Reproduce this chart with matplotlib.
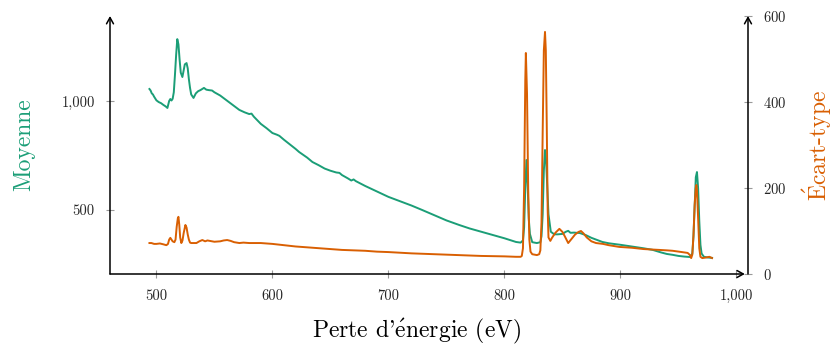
import matplotlib.pyplot as plt
from matplotlib.ticker import FuncFormatter

plt.rcParams['font.family'] = ['cmr10', 'DejaVu Serif']
plt.rcParams['mathtext.fontset'] = 'cm'
plt.rcParams['axes.formatter.use_mathtext'] = True

GREEN = '#1b9e77'
ORANGE = '#d95f02'

# mean spectrum (left axis)
mean_ev = [494, 495, 496, 497, 498, 500, 502, 504, 506, 508, 509.5, 511, 512, 513, 514, 515,
           516, 517, 518, 519, 520, 521, 522.4, 523.5, 524.5, 526, 527, 528, 529, 530, 532,
           534, 536, 538, 541, 543, 545, 548, 550, 555, 560, 565, 571.5, 576, 580, 582, 584,
           590, 595, 600, 604, 606, 610, 620, 623, 630, 634.5, 640, 645, 650, 655, 657.8, 660,
           665, 668, 670, 672, 680, 690, 700, 710, 720, 729, 740, 750, 761, 770, 780, 790, 800,
           810, 814, 816, 817, 818, 819, 820, 821, 822, 824, 828, 831, 832, 833, 834, 835, 836,
           837, 838, 840, 843, 846, 850, 853, 855, 857, 860, 865, 870, 875, 884.5, 890, 900,
           910, 920, 927.6, 935, 940, 945, 950, 955, 958, 960, 962, 963, 964, 965, 966, 967,
           968, 969, 970, 972, 975, 979]
mean_val = [1055, 1048, 1035, 1030, 1020, 1003, 995, 990, 982, 975, 968, 1000, 1009, 1002, 1010, 1040,
            1120, 1210, 1284, 1260, 1190, 1130, 1110, 1140, 1168, 1174, 1150, 1100, 1060, 1030, 1014,
            1035, 1045, 1050, 1060, 1052, 1050, 1048, 1040, 1025, 1005, 985, 959, 948, 940, 942, 928,
            895, 875, 853, 845, 840, 822, 780, 766, 740, 720, 705, 690, 680, 672, 670, 660,
            645, 635, 640, 632, 610, 585, 560, 540, 520, 500, 475, 452, 431, 415, 400, 385, 370,
            353, 350, 360, 420, 600, 729, 620, 460, 390, 352, 348, 352, 380, 480, 680, 775, 720,
            600, 480, 400, 388, 388, 390, 400, 404, 395, 396, 394, 385, 372, 353, 347, 340,
            332, 324, 317, 305, 298, 294, 289, 286, 285, 284, 300, 380, 520, 650, 674, 600,
            450, 340, 300, 285, 282, 280]

# standard deviation (right axis)
std_ev = [494, 495.7, 498, 500, 503, 506, 508.6, 510, 511, 512, 513, 514, 515.5, 516.5, 517.5,
          518.5, 519, 519.7, 520.5, 521.5, 522.5, 523.5, 525, 526, 527, 528, 529, 530, 532,
          534.5, 537, 539.6, 542, 544, 546, 548, 550, 555, 558, 561, 564, 567, 571.5, 575, 580,
          585, 590, 595, 600, 610, 620, 630, 640, 650, 660, 670, 680, 690, 700, 720, 740, 760,
          780, 800, 810, 814, 815, 816, 817, 818, 818.5, 819.5, 820.5, 821.5, 822.5, 824, 828,
          830, 831, 832, 833, 834, 835, 835.7, 836.5, 837.3, 838, 839.6, 841, 844, 847.4, 850,
          852, 855, 858, 861, 864, 866, 868, 871, 875, 879, 885, 890, 899, 910, 920, 933.6, 940,
          945, 953, 958, 960, 961, 962, 963, 964, 965, 965.5, 966, 967, 968, 969, 970.6, 973,
          976.7, 979]
std_val = [72, 72, 70, 70, 71, 69, 67, 70, 80, 84, 80, 76, 74, 80, 110,
           130, 133, 115, 85, 72, 78, 95, 114, 108, 92, 80, 73, 72, 72,
           72, 76, 79, 76, 78, 77, 76, 75, 76, 78, 79, 77, 74, 72, 73, 72,
           72, 72, 71, 70, 67, 64, 62, 60, 58, 56, 55, 54, 52, 51, 48, 46, 44,
           42, 41, 40, 40, 42, 60, 200, 450, 514, 420, 200, 80, 52, 46, 44,
           46, 55, 120, 330, 520, 563, 520, 350, 150, 85, 77, 84, 96, 105, 98,
           88, 72, 82, 92, 98, 100, 95, 85, 76, 72, 70, 67, 63, 61, 58, 56, 55,
           54, 51, 49, 44, 37, 45, 90, 160, 200, 207, 195, 130, 60, 40, 37, 38,
           40, 37]

fig = plt.figure(figsize=(8.36, 3.45), dpi=100)
ax1 = fig.add_axes([110 / 836, 1 - 274 / 345, 638 / 836, 258 / 345])
ax2 = ax1.twinx()

ax1.plot(mean_ev, mean_val, color=GREEN, lw=1.4)
ax2.plot(std_ev, std_val, color=ORANGE, lw=1.4)

ax1.set_xlim(460, 1010)
ax1.set_ylim(206, 1390)
ax2.set_ylim(0, 600)

ax1.set_xticks([500, 600, 700, 800, 900, 1000])
ax1.set_yticks([500, 1000])
ax2.set_yticks([0, 200, 400, 600])
fmt = FuncFormatter(lambda v, p: f"{v:,.0f}")
ax1.xaxis.set_major_formatter(fmt)
ax1.yaxis.set_major_formatter(fmt)

for sp in ax1.spines.values():
    sp.set_visible(False)
for sp in ax2.spines.values():
    sp.set_visible(False)

for ax in (ax1, ax2):
    ax.tick_params(direction='inout', length=6, width=0.8, color='0.6',
                   labelsize=10.5, labelcolor='0.15', pad=8)

# axis lines with arrows
arrow = dict(arrowstyle='->,head_length=0.45,head_width=0.25', lw=1.1, color='black',
             shrinkA=0, shrinkB=0)
ax1.annotate('', xy=(0, 1), xytext=(0, 0), xycoords='axes fraction', arrowprops=arrow)
ax1.annotate('', xy=(0.995, 0), xytext=(0, 0), xycoords='axes fraction', arrowprops=arrow)
ax2.annotate('', xy=(1, 1), xytext=(1, 0), xycoords='axes fraction', arrowprops=arrow)

ax1.set_xlabel(r"Perte d'$\mathrm{\acute{e}}$nergie (eV)", fontsize=17)
ax1.xaxis.set_label_coords(0.48, -0.165)
ax1.set_ylabel("Moyenne", fontsize=17, color=GREEN)
ax1.yaxis.set_label_coords(-0.118, 0.5)
ax2.set_ylabel(r"$\mathrm{\acute{E}}$cart-type", fontsize=17, color=ORANGE)
ax2.yaxis.set_label_coords(1.082, 0.5)

fig.savefig("out.png", dpi=100)
